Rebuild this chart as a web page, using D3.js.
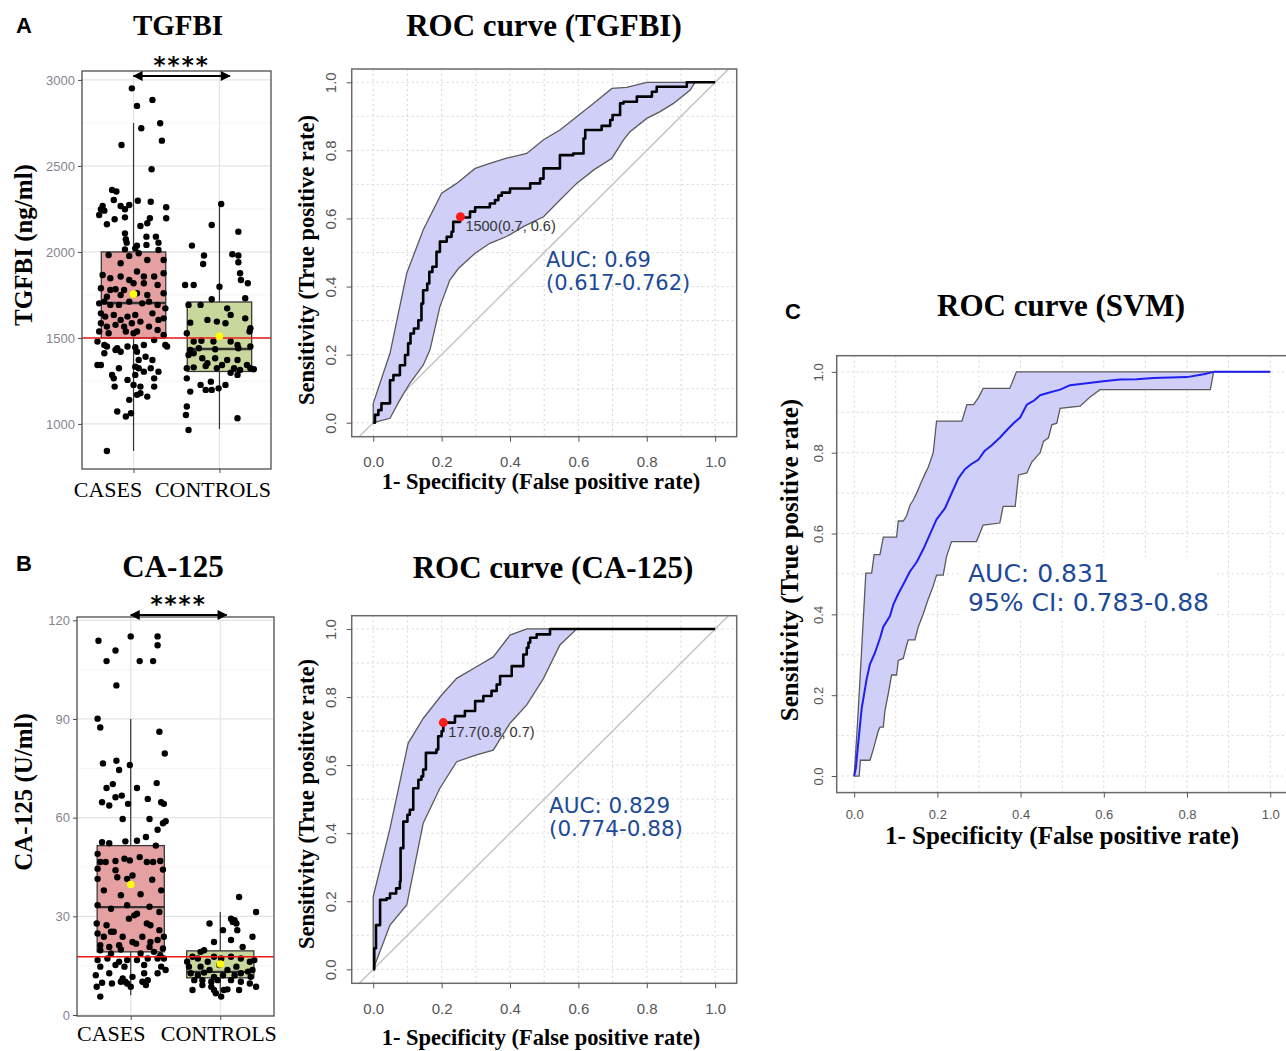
<!DOCTYPE html>
<html>
<head>
<meta charset="utf-8">
<script src="https://cdn.jsdelivr.net/npm/d3@7"></script>
<style>
  body { margin: 0; background: #fff; }
  svg { display: block; }
</style>
</head>
<body>
<svg id="fig" width="1286" height="1051"></svg>
<script>
// ---------- data ----------
const groups = ["CASES", "CONTROLS"];

// box stats per group: [lower whisker, q1, median, q3, upper whisker]
const tgfbiBox = [[843, 1500, 1703, 2000, 2750], [970, 1305, 1436, 1709, 2279]];
const tgfbiMeans = [1755, 1510];
const tgfbiCutoff = 1500;
const tgfbiTicks = [1000, 1500, 2000, 2500, 3000];
const tgfbiMinor = [1250, 1750, 2250, 2750];

// jittered points: [jitter (category units), value]
const tgfbiCases = [
  [-0.02,2951],[0.22,2884],[0.04,2849],[0.31,2748],[0.09,2719],[0.33,2647],[-0.14,2622],[0.21,2481],
  [-0.25,2360],[-0.20,2351],[-0.23,2302],[0.05,2298],[0.20,2292],[-0.36,2267],[-0.38,2248],[-0.34,2240],
  [-0.15,2267],[-0.05,2273],[-0.10,2248],[0.38,2260],[-0.40,2215],[-0.10,2201],[-0.22,2190],[0.19,2196],
  [0.38,2196],[-0.31,2161],[0.16,2167],[0.08,2151],[-0.10,2108],[-0.09,2074],[-0.08,2054],[0.15,2089],
  [0.26,2089],[0.04,2037],[0.02,2021],[0.15,2041],[0.29,2054],[-0.10,2015],[0.29,2011],[-0.29,1982],
  [-0.05,1977],[0.06,1992],
  [0.35,1953],[0.16,1953],[-0.15,1934],
  [-0.36,1866],[-0.27,1847],[-0.15,1857],[0.04,1886],[0.12,1857],[0.24,1857],[0.35,1876],[-0.05,1837],
  [-0.38,1789],[-0.27,1779],[-0.21,1783],[-0.11,1779],[0.00,1818],[0.12,1818],[0.28,1808],[0.35,1760],
  [-0.31,1740],[-0.15,1750],[0.04,1760],[0.16,1750],
  [-0.40,1701],[-0.34,1711],[-0.27,1692],[-0.17,1692],[-0.05,1711],[0.10,1701],[0.18,1711],[0.28,1692],[0.37,1672],
  [-0.38,1643],[-0.33,1624],[-0.23,1634],[-0.15,1605],[-0.07,1624],[0.02,1634],[0.08,1595],[0.22,1643],
  [0.29,1605],[0.35,1614],[-0.38,1585],[-0.31,1566],[-0.21,1576],[-0.11,1566],[-0.02,1585],[0.18,1566],
  [-0.40,1537],[-0.29,1527],[-0.09,1537],[0.00,1527],[0.04,1537],[0.28,1546],[0.35,1517],
  [-0.42,1479],[-0.34,1459],[-0.31,1450],[-0.19,1440],[-0.07,1450],[0.02,1446],[0.12,1459],[0.24,1488],
  [0.37,1459],[0.39,1450],
  [-0.34,1411],[-0.21,1430],[-0.15,1420],[0.04,1420],[0.06,1372],[0.14,1391],[0.22,1372],
  [-0.42,1343],[-0.38,1343],[-0.17,1324],[0.02,1333],[0.06,1324],[0.12,1304],[0.20,1324],[0.29,1304],
  [-0.25,1285],[-0.23,1265],[0.02,1285],[0.24,1265],[-0.22,1217],[-0.07,1256],[0.00,1227],[0.08,1217],[0.24,1217],
  [-0.05,1140],[0.04,1169],[0.08,1178],[0.16,1159],[-0.19,1072],[-0.03,1062],[-0.09,1043],
  [-0.31,843]
];
const tgfbiControls = [
  [0.02,2279],[-0.09,2157],[0.22,2118],[-0.32,2037],[-0.18,1979],[0.15,1987],[0.22,1979],
  [-0.19,1930],[0.22,1940],[0.24,1876],[0.25,1837],[0.33,1818],[-0.40,1808],[-0.30,1808],[0.00,1798],
  [-0.09,1725],[0.09,1672],[0.30,1731],[-0.36,1692],[-0.22,1692],[0.13,1634],[0.30,1614],[-0.14,1605],
  [-0.03,1595],[-0.34,1589],[0.07,1585],[0.36,1556],[0.35,1537],[-0.38,1527],[-0.21,1484],[-0.30,1479],
  [-0.07,1479],[0.13,1479],[0.21,1459],[-0.34,1430],[-0.24,1440],[-0.05,1434],[0.22,1440],[0.36,1450],
  [-0.36,1401],[-0.30,1411],[-0.20,1382],[-0.14,1353],[-0.05,1382],[0.09,1372],[0.21,1372],[0.32,1343],
  [-0.38,1324],[-0.30,1329],[-0.16,1337],[-0.03,1324],[0.03,1343],[0.17,1324],[0.24,1314],[0.36,1324],
  [0.40,1318],[0.13,1298],[0.21,1285],[-0.38,1265],[-0.22,1227],[-0.16,1198],[-0.10,1246],[0.07,1227],
  [-0.09,1198],[-0.01,1207],[-0.34,1188],[-0.38,1101],[-0.39,1052],[-0.36,965],[0.21,1033]
];

const caBox = [[6, 19.2, 32.8, 51.5, 90], [5, 11.3, 13.1, 19.5, 31.3]];
const caMeans = [39.7, 15.5];
const caCutoff = 17.7;
const caTicks = [0, 30, 60, 90, 120];
const caMinor = [15, 45, 75, 105];

const caCases = [
  [-0.36,113.8],[0.00,115.1],[0.30,115.1],[0.30,112.4],[-0.17,110.8],[-0.27,107.6],[0.10,107.6],[0.25,107.6],
  [-0.16,100.2],[-0.37,90.1],[-0.34,87.4],[0.32,86.1],[0.38,79.5],[-0.31,76.5],[-0.16,77.3],[-0.13,74.5],
  [-0.01,76.0],[-0.27,69.0],[-0.20,70.2],[0.07,69.0],[0.29,70.5],
  [-0.32,64.7],[-0.24,63.7],[-0.17,66.2],[-0.10,66.7],[-0.03,64.2],[0.19,65.7],[0.34,64.7],[0.37,64.2],
  [-0.09,59.6],[0.21,59.6],[0.36,58.3],[0.39,58.9],[0.30,56.3],[0.17,54.1],
  [-0.32,52.5],[-0.24,52.2],[-0.06,52.8],[0.07,53.0],[0.28,51.5],
  [-0.37,49.0],[-0.34,46.5],[-0.28,46.5],[-0.17,46.8],[-0.07,47.5],[-0.01,47.0],[0.10,48.0],[0.18,46.5],
  [0.25,46.5],[0.33,46.8],[0.36,44.2],[-0.37,44.5],[-0.37,41.4],[-0.17,44.0],[-0.15,41.9],[-0.04,41.4],
  [0.02,42.4],[0.24,41.1],[-0.30,37.9],[-0.11,36.4],[0.11,36.7],[0.34,37.9],
  [-0.37,33.4],[-0.22,32.3],[-0.04,33.4],[0.07,30.8],[0.21,32.9],[0.32,31.3],
  [-0.38,27.8],[-0.27,27.3],[-0.22,25.3],[-0.02,29.3],[0.04,30.3],[0.18,27.8],[0.22,27.3],[0.32,25.8],
  [-0.37,24.8],[-0.30,23.8],[-0.19,25.3],[-0.09,23.8],[0.02,22.2],[0.13,23.8],[0.22,22.2],[0.30,22.8],[0.37,23.8],
  [-0.34,21.2],[-0.24,20.7],[-0.13,21.2],[0.06,21.7],[0.21,20.7],[0.36,20.2],
  [-0.34,19.7],[-0.22,18.7],[-0.11,19.9],[0.11,18.7],[0.26,19.2],[0.33,18.2],
  [-0.26,17.2],[-0.37,16.7],[-0.13,16.2],[-0.04,16.7],[0.07,16.7],[0.19,17.2],[0.30,17.2],[0.37,17.2],
  [-0.34,14.7],[-0.17,15.2],[-0.07,14.7],[0.15,15.2],[0.34,14.7],[0.39,13.7],
  [-0.39,12.1],[-0.24,12.7],[-0.09,11.1],[-0.06,10.1],[0.02,11.6],[0.15,12.7],[0.19,10.6],[0.30,12.7],
  [-0.32,9.8],[-0.21,9.6],[-0.11,10.1],[-0.04,9.6],[0.13,10.1],[0.00,8.6],[-0.38,8.6],[-0.34,5.6],[0.17,9.1]
];
const caControls = [
  [0.21,35.9],[0.40,31.3],[-0.12,27.8],[0.12,29.3],[0.14,28.3],[0.16,28.8],[0.18,27.8],[0.03,25.8],
  [0.19,25.8],[0.12,22.8],[0.36,23.8],[-0.07,22.2],[-0.18,19.7],[0.25,20.7],[-0.22,19.2],[-0.31,17.7],
  [-0.37,16.2],[-0.25,17.2],[-0.14,16.2],[-0.07,17.7],[0.01,17.2],[0.12,17.7],[0.23,17.2],[0.33,16.2],
  [0.38,16.7],[-0.35,14.7],[-0.22,14.7],[-0.12,13.7],[-0.01,15.2],[0.08,13.7],[0.18,14.7],[0.31,13.2],
  [0.36,13.7],[-0.33,12.7],[-0.25,12.1],[-0.18,12.9],[-0.07,11.6],[0.03,12.1],[0.16,12.1],[0.23,12.7],
  [0.34,11.6],[-0.29,10.6],[-0.20,10.6],[-0.10,10.1],[-0.03,10.6],[0.12,10.6],[0.23,10.1],[0.33,9.6],
  [0.40,8.6],[-0.31,7.6],[-0.10,8.6],[-0.05,6.6],[0.01,5.6],[0.04,7.6],[0.08,7.8],[0.21,7.6],
  [-0.20,9.1],[-0.07,7.6]
];

// ROC curves: [1 - specificity, sensitivity]
const rocTicks = [0, 0.2, 0.4, 0.6, 0.8, 1.0];
const rocGrid = [0, 0.1, 0.2, 0.3, 0.4, 0.5, 0.6, 0.7, 0.8, 0.9, 1.0];

const tgfbiRoc = [
  [0,0],[0.005,0.023],[0.015,0.037],[0.024,0.057],[0.049,0.125],[0.059,0.140],[0.078,0.169],[0.093,0.199],
  [0.102,0.233],[0.109,0.262],[0.119,0.277],[0.132,0.301],[0.141,0.350],[0.146,0.389],[0.158,0.409],
  [0.164,0.443],[0.173,0.458],[0.185,0.502],[0.195,0.532],[0.215,0.546],[0.229,0.561],[0.234,0.590],
  [0.254,0.603],[0.283,0.620],[0.298,0.633],[0.341,0.644],[0.356,0.654],[0.366,0.667],[0.376,0.676],
  [0.400,0.688],[0.459,0.703],[0.488,0.717],[0.498,0.747],[0.546,0.786],[0.585,0.791],[0.615,0.835],
  [0.620,0.860],[0.668,0.872],[0.693,0.889],[0.700,0.904],[0.722,0.938],[0.732,0.943],[0.771,0.958],
  [0.815,0.972],[0.829,0.987],[0.917,1.0],[1.0,1.0]
];
const tgfbiUpper = [
  [0,0.057],[0.049,0.204],[0.098,0.439],[0.146,0.566],[0.200,0.674],[0.244,0.703],[0.298,0.747],
  [0.341,0.762],[0.390,0.777],[0.449,0.791],[0.498,0.831],[0.546,0.860],[0.595,0.899],[0.644,0.938],
  [0.698,0.982],[0.741,0.985],[0.800,1.0],[0.941,1.0]
];
const tgfbiLower = [
  [0,0],[0.049,0.013],[0.078,0.067],[0.107,0.116],[0.146,0.169],[0.166,0.214],[0.195,0.341],[0.224,0.419],
  [0.249,0.453],[0.298,0.498],[0.341,0.527],[0.390,0.547],[0.439,0.576],[0.498,0.605],[0.546,0.654],
  [0.595,0.703],[0.644,0.742],[0.698,0.777],[0.732,0.831],[0.751,0.855],[0.800,0.894],[0.839,0.914],
  [0.878,0.938],[0.927,0.977],[0.941,1.0]
];
const tgfbiBest = [0.255, 0.605];

const caRoc = [
  [0,0],[0.003,0.062],[0.008,0.130],[0.020,0.204],[0.039,0.209],[0.049,0.223],[0.067,0.238],[0.078,0.258],
  [0.080,0.356],[0.088,0.434],[0.100,0.454],[0.107,0.469],[0.117,0.532],[0.132,0.557],[0.141,0.567],
  [0.146,0.587],[0.154,0.636],[0.185,0.646],[0.190,0.685],[0.200,0.700],[0.205,0.725],[0.239,0.744],
  [0.268,0.759],[0.298,0.788],[0.322,0.803],[0.346,0.818],[0.361,0.837],[0.371,0.862],[0.405,0.891],
  [0.439,0.925],[0.449,0.945],[0.454,0.960],[0.459,0.974],[0.478,0.984],[0.517,1.0],[1.0,1.0]
];
const caUpper = [
  [0,0.214],[0.049,0.414],[0.102,0.664],[0.146,0.737],[0.200,0.806],[0.244,0.855],[0.302,0.889],
  [0.351,0.918],[0.400,0.982],[0.449,1.0],[0.595,1.0]
];
const caLower = [
  [0,0],[0.049,0.130],[0.098,0.189],[0.146,0.429],[0.195,0.532],[0.244,0.610],[0.302,0.630],[0.351,0.644],
  [0.400,0.723],[0.449,0.777],[0.498,0.855],[0.546,0.953],[0.595,1.0]
];
const caBest = [0.205, 0.725];

const svmRoc = [
  [0,0],[0.004,0.020],[0.010,0.084],[0.018,0.167],[0.030,0.240],[0.038,0.277],[0.050,0.305],[0.062,0.341],
  [0.070,0.369],[0.086,0.396],[0.094,0.424],[0.106,0.451],[0.118,0.474],[0.134,0.506],[0.150,0.529],
  [0.166,0.561],[0.182,0.598],[0.198,0.635],[0.218,0.662],[0.234,0.699],[0.250,0.736],[0.266,0.759],
  [0.282,0.772],[0.298,0.782],[0.314,0.805],[0.330,0.818],[0.350,0.837],[0.366,0.855],[0.383,0.873],
  [0.399,0.887],[0.415,0.919],[0.431,0.928],[0.447,0.942],[0.463,0.947],[0.495,0.956],[0.519,0.967],
  [0.559,0.972],[0.599,0.977],[0.639,0.981],[0.679,0.982],[0.719,0.985],[0.800,0.987],[0.840,0.994],
  [0.864,1.0],[1.0,1.0]
];
const svmUpper = [
  [0,0],[0.008,0.130],[0.018,0.314],[0.028,0.502],[0.042,0.502],[0.048,0.548],[0.062,0.548],[0.070,0.591],
  [0.102,0.591],[0.106,0.631],[0.118,0.631],[0.126,0.644],[0.134,0.670],[0.142,0.683],[0.150,0.700],
  [0.162,0.729],[0.170,0.747],[0.178,0.764],[0.190,0.800],[0.198,0.878],[0.259,0.878],[0.271,0.919],
  [0.287,0.919],[0.299,0.937],[0.310,0.959],[0.374,0.959],[0.390,1.0],[1.0,1.0]
];
const svmLower = [
  [0.004,0],[0.012,0],[0.015,0.039],[0.038,0.039],[0.046,0.066],[0.058,0.112],[0.062,0.121],[0.070,0.121],
  [0.074,0.162],[0.082,0.204],[0.090,0.250],[0.102,0.250],[0.106,0.286],[0.118,0.291],[0.126,0.323],
  [0.130,0.337],[0.146,0.337],[0.154,0.369],[0.166,0.401],[0.178,0.438],[0.190,0.470],[0.198,0.497],
  [0.214,0.497],[0.222,0.543],[0.234,0.580],[0.294,0.580],[0.310,0.621],[0.350,0.626],[0.358,0.667],
  [0.387,0.667],[0.395,0.745],[0.415,0.750],[0.427,0.777],[0.439,0.791],[0.447,0.800],[0.455,0.828],
  [0.467,0.837],[0.475,0.869],[0.487,0.873],[0.495,0.910],[0.543,0.915],[0.567,0.938],[0.591,0.956],
  [0.856,0.956],[0.864,1.0],[1.0,1.0]
];

// ---------- drawing ----------
const svg = d3.select("#fig");
const serif = "'Liberation Serif', 'DejaVu Serif', serif";
const sans = "'Liberation Sans', Arial, sans-serif";
const vera = "'DejaVu Sans', Verdana, sans-serif";

svg.append("rect").attr("width", 1286).attr("height", 1051).attr("fill", "#fff");

const defs = svg.append("defs");
defs.append("marker")
  .attr("id", "head")
  .attr("viewBox", "0 0 10 10")
  .attr("refX", 9).attr("refY", 5)
  .attr("markerWidth", 7.5).attr("markerHeight", 5)
  .attr("orient", "auto-start-reverse")
  .append("path").attr("d", "M0,0L10,5L0,10Z").attr("fill", "#000");

function label(txt, x, y, o) {
  const t = svg.append("text").attr("x", x).attr("y", y).text(txt)
    .attr("font-family", o.font || serif)
    .attr("font-size", o.size)
    .attr("font-weight", o.weight || "normal")
    .attr("fill", o.fill || "#000")
    .attr("text-anchor", o.anchor || "middle");
  if (o.rotate) t.attr("transform", `rotate(-90, ${x}, ${y})`);
  return t;
}

function boxPanel(p) {
  const x = d3.scaleLinear().domain([0.4, 2.6]).range([p.left, p.right]);
  const y = d3.scaleLinear().domain(p.yDomain).range([p.bottom, p.top]);
  const g = svg.append("g");

  g.selectAll(".minor").data(p.minor).join("line")
    .attr("x1", p.left).attr("x2", p.right)
    .attr("y1", d => y(d)).attr("y2", d => y(d))
    .attr("stroke", "#f1f1f1").attr("stroke-width", 0.8);
  g.selectAll(".major").data(p.ticks).join("line")
    .attr("x1", p.left).attr("x2", p.right)
    .attr("y1", d => y(d)).attr("y2", d => y(d))
    .attr("stroke", "#e4e4e4").attr("stroke-width", 1.2);
  g.selectAll(".vgrid").data([1, 2]).join("line")
    .attr("x1", d => x(d)).attr("x2", d => x(d))
    .attr("y1", p.top).attr("y2", p.bottom)
    .attr("stroke", "#e4e4e4").attr("stroke-width", 1.2);

  // boxplots
  g.selectAll(".whisker").data(p.box).join("line")
    .attr("x1", (d, i) => x(i + 1)).attr("x2", (d, i) => x(i + 1))
    .attr("y1", d => y(d[0])).attr("y2", d => y(d[4]))
    .attr("stroke", "#333").attr("stroke-width", 1.2);
  g.selectAll(".box").data(p.box).join("rect")
    .attr("x", (d, i) => x(i + 1 - 0.375))
    .attr("width", x(1.375) - x(0.625))
    .attr("y", d => y(d[3]))
    .attr("height", d => y(d[1]) - y(d[3]))
    .attr("fill", (d, i) => p.fills[i])
    .attr("stroke", "#3a3a3a").attr("stroke-width", 1.3);
  g.selectAll(".median").data(p.box).join("line")
    .attr("x1", (d, i) => x(i + 1 - 0.375)).attr("x2", (d, i) => x(i + 1 + 0.375))
    .attr("y1", d => y(d[2])).attr("y2", d => y(d[2]))
    .attr("stroke", "#333").attr("stroke-width", 2.4);

  // jittered points
  p.points.forEach((pts, i) => {
    g.append("g").selectAll("circle").data(pts).join("circle")
      .attr("cx", d => x(i + 1 + d[0]))
      .attr("cy", d => y(d[1]))
      .attr("r", 3.2)
      .attr("fill", "#000");
  });

  // cutoff line
  g.append("line")
    .attr("x1", p.left).attr("x2", p.right)
    .attr("y1", y(p.cutoff)).attr("y2", y(p.cutoff))
    .attr("stroke", "#f01818").attr("stroke-width", 1.6);

  // means
  g.selectAll(".mean").data(p.means).join("circle")
    .attr("cx", (d, i) => x(i + 1)).attr("cy", d => y(d))
    .attr("r", 3.8).attr("fill", "#ffff00");

  g.append("rect")
    .attr("x", p.left).attr("y", p.top)
    .attr("width", p.right - p.left).attr("height", p.bottom - p.top)
    .attr("fill", "none").attr("stroke", "#4d4d4d").attr("stroke-width", 1.3);

  const ya = g.append("g").attr("transform", `translate(${p.left},0)`)
    .call(d3.axisLeft(y).tickValues(p.ticks).tickFormat(d3.format("d")).tickSize(4).tickPadding(3));
  ya.select(".domain").remove();
  ya.selectAll("line").attr("stroke", "#4d4d4d");
  ya.selectAll("text").attr("font-family", sans).attr("font-size", 13).attr("fill", "#84848e");

  const xa = g.append("g").attr("transform", `translate(0,${p.bottom})`)
    .call(d3.axisBottom(x).tickValues([1, 2]).tickFormat((d, i) => groups[i]).tickSize(4));
  xa.select(".domain").remove();
  xa.selectAll("line").attr("stroke", "#4d4d4d");
  xa.selectAll("text")
    .attr("font-family", serif).attr("font-size", 22).attr("fill", "#000")
    .attr("dy", 0).attr("y", p.labelY)
    .attr("dx", (d, i) => p.labelShift[i]);

  // significance bracket
  g.append("line")
    .attr("x1", x(1)).attr("x2", x(p.arrowEnd))
    .attr("y1", p.arrowY).attr("y2", p.arrowY)
    .attr("stroke", "#000").attr("stroke-width", 2)
    .attr("marker-start", "url(#head)").attr("marker-end", "url(#head)");
  g.append("text")
    .attr("x", (x(1) + x(p.arrowEnd)) / 2).attr("y", p.arrowY - 3)
    .attr("text-anchor", "middle")
    .attr("font-family", vera).attr("font-size", 23).attr("font-weight", "bold")
    .attr("letter-spacing", 2)
    .text("****");
}

let clipCount = 0;
function rocPanel(p) {
  const x = d3.scaleLinear().domain(p.xDomain).range([p.left, p.right]);
  const y = d3.scaleLinear().domain(p.yDomain).range([p.bottom, p.top]);
  const g = svg.append("g");
  const id = "clip" + (clipCount++);
  g.append("clipPath").attr("id", id).append("rect")
    .attr("x", p.left).attr("y", p.top)
    .attr("width", p.right - p.left).attr("height", p.bottom - p.top);
  const inner = g.append("g").attr("clip-path", `url(#${id})`);

  inner.selectAll(".gx").data(rocGrid).join("line")
    .attr("x1", d => x(d)).attr("x2", d => x(d))
    .attr("y1", p.top).attr("y2", p.bottom)
    .attr("stroke", "#d6d6d6").attr("stroke-dasharray", "2,3");
  inner.selectAll(".gy").data(rocGrid).join("line")
    .attr("x1", p.left).attr("x2", p.right)
    .attr("y1", d => y(d)).attr("y2", d => y(d))
    .attr("stroke", "#d6d6d6").attr("stroke-dasharray", "2,3");

  if (p.diagonal) {
    inner.append("line")
      .attr("x1", x(-0.1)).attr("y1", y(-0.1))
      .attr("x2", x(1.1)).attr("y2", y(1.1))
      .attr("stroke", "#c4c4c4").attr("stroke-width", 1.5);
  }

  const line = d3.line().x(d => x(d[0])).y(d => y(d[1]));
  inner.append("path")
    .attr("d", line(p.upper.concat(p.lower.slice().reverse())) + "Z")
    .attr("fill", "#cfcff8").attr("stroke", "#5a5a5a").attr("stroke-width", 1.3);

  inner.append("path")
    .attr("d", line.curve(p.step ? d3.curveStepAfter : d3.curveLinear)(p.curve))
    .attr("fill", "none").attr("stroke", p.color).attr("stroke-width", p.lw)
    .attr("stroke-linejoin", "round");

  if (p.best) {
    inner.append("circle")
      .attr("cx", x(p.best[0])).attr("cy", y(p.best[1]))
      .attr("r", 4.5).attr("fill", "#ff1a1a");
    inner.append("text")
      .attr("x", x(p.best[0]) + 5).attr("y", y(p.best[1]) + 14)
      .attr("font-family", sans).attr("font-size", 14.5).attr("fill", "#333")
      .text(p.bestLabel);
  }

  g.append("rect")
    .attr("x", p.left).attr("y", p.top)
    .attr("width", p.right - p.left).attr("height", p.bottom - p.top)
    .attr("fill", "none").attr("stroke", "#6a6a6a").attr("stroke-width", 1.5);

  const xa = g.append("g").attr("transform", `translate(0,${p.bottom})`)
    .call(d3.axisBottom(x).tickValues(rocTicks).tickFormat(d3.format(".1f"))
      .tickSize(5).tickPadding(p.xPad));
  xa.select(".domain").remove();
  xa.selectAll("line").attr("stroke", "#555");
  xa.selectAll("text").attr("font-family", sans).attr("font-size", p.tickSize).attr("fill", "#555");

  const ya = g.append("g").attr("transform", `translate(${p.left},0)`)
    .call(d3.axisLeft(y).tickValues(rocTicks).tickFormat(d3.format(".1f")).tickSize(5));
  ya.select(".domain").remove();
  ya.selectAll("line").attr("stroke", "#555");
  ya.selectAll("text")
    .attr("x", null).attr("dy", 0)
    .attr("transform", `translate(${-p.yPad},0) rotate(-90)`)
    .attr("text-anchor", "middle")
    .attr("font-family", sans).attr("font-size", p.tickSize).attr("fill", "#555");

  // AUC text
  const at = g.append("g");
  p.auc.forEach((s, i) => {
    at.append("text")
      .attr("x", p.aucX).attr("y", p.aucY + i * p.aucGap)
      .attr("font-family", vera).attr("font-size", p.aucSize).attr("fill", "#1d4a98")
      .text(s);
  });
  if (p.aucBg) {
    const b = at.node().getBBox();
    at.insert("rect", "text")
      .attr("x", b.x - 8).attr("y", b.y - 2)
      .attr("width", b.width + 16).attr("height", b.height + 4)
      .attr("fill", "#fff");
  }
}

// ---------- panel A ----------
label("A", 16, 33, { font: sans, size: 22, weight: "bold", anchor: "start" });
label("TGFBI", 178, 35, { size: 29, weight: "bold" });
label("ROC curve (TGFBI)", 544, 36, { size: 31, weight: "bold" });
label("TGFBI (ng/ml)", 32, 245, { size: 25, weight: "bold", rotate: true });

boxPanel({
  left: 82, right: 271, top: 71, bottom: 469,
  yDomain: [738, 3052],
  ticks: tgfbiTicks, minor: tgfbiMinor,
  box: tgfbiBox, means: tgfbiMeans, cutoff: tgfbiCutoff,
  points: [tgfbiCases, tgfbiControls],
  fills: ["#e5a1a1", "#c8d89c"],
  labelY: 27.5, labelShift: [-26, -7],
  arrowY: 76, arrowEnd: 2.12
});

rocPanel({
  left: 351.7, right: 736.7, top: 69, bottom: 436.7,
  xDomain: [-0.063, 1.063], yDomain: [-0.041, 1.039],
  curve: tgfbiRoc, upper: tgfbiUpper, lower: tgfbiLower,
  step: true, color: "#000", lw: 2.6, diagonal: true,
  best: tgfbiBest, bestLabel: "1500(0.7, 0.6)",
  tickSize: 15, xPad: 15, yPad: 16,
  auc: ["AUC: 0.69", "(0.617-0.762)"], aucX: 546, aucY: 267, aucGap: 23, aucSize: 21
});
label("Sensitivity (True positive rate)", 314, 260, { size: 22.5, weight: "bold", rotate: true });
label("1- Specificity (False positive rate)", 541, 489, { size: 22.5, weight: "bold" });

// ---------- panel B ----------
label("B", 16, 571, { font: sans, size: 22, weight: "bold", anchor: "start" });
label("CA-125", 173, 577, { size: 31, weight: "bold" });
label("ROC curve (CA-125)", 553, 578, { size: 31, weight: "bold" });
label("CA-125 (U/ml)", 32, 792, { size: 25, weight: "bold", rotate: true });

boxPanel({
  left: 77, right: 274, top: 617, bottom: 1016,
  yDomain: [-0.3, 121],
  ticks: caTicks, minor: caMinor,
  box: caBox, means: caMeans, cutoff: caCutoff,
  points: [caCases, caControls],
  fills: ["#e5a1a1", "#c8d89c"],
  labelY: 24.5, labelShift: [-20, -2],
  arrowY: 615, arrowEnd: 2.07
});

rocPanel({
  left: 351.7, right: 736.7, top: 615.7, bottom: 983.3,
  xDomain: [-0.063, 1.063], yDomain: [-0.041, 1.039],
  curve: caRoc, upper: caUpper, lower: caLower,
  step: true, color: "#000", lw: 2.6, diagonal: true,
  best: caBest, bestLabel: "17.7(0.8, 0.7)",
  tickSize: 15, xPad: 15, yPad: 16,
  auc: ["AUC: 0.829", "(0.774-0.88)"], aucX: 549, aucY: 813, aucGap: 23, aucSize: 21.5
});
label("Sensitivity (True positive rate)", 314, 804, { size: 22.5, weight: "bold", rotate: true });
label("1- Specificity (False positive rate)", 541, 1045, { size: 22.5, weight: "bold" });

// ---------- panel C ----------
label("C", 785, 319, { font: sans, size: 22, weight: "bold", anchor: "start" });
label("ROC curve (SVM)", 1061, 316, { size: 31, weight: "bold" });

rocPanel({
  left: 836.7, right: 1287.7, top: 355.7, bottom: 792.6,
  xDomain: [-0.042, 1.042], yDomain: [-0.041, 1.04],
  curve: svmRoc, upper: svmUpper, lower: svmLower,
  step: false, color: "#1f1ff0", lw: 2, diagonal: false,
  tickSize: 13, xPad: 12, yPad: 14,
  auc: ["AUC: 0.831", "95% CI: 0.783-0.88"], aucX: 968, aucY: 582, aucGap: 29, aucSize: 25,
  aucBg: true
});
label("Sensitivity (True positive rate)", 798, 560, { size: 25, weight: "bold", rotate: true });
label("1- Specificity (False positive rate)", 1062, 844, { size: 25, weight: "bold" });
</script>
</body>
</html>
